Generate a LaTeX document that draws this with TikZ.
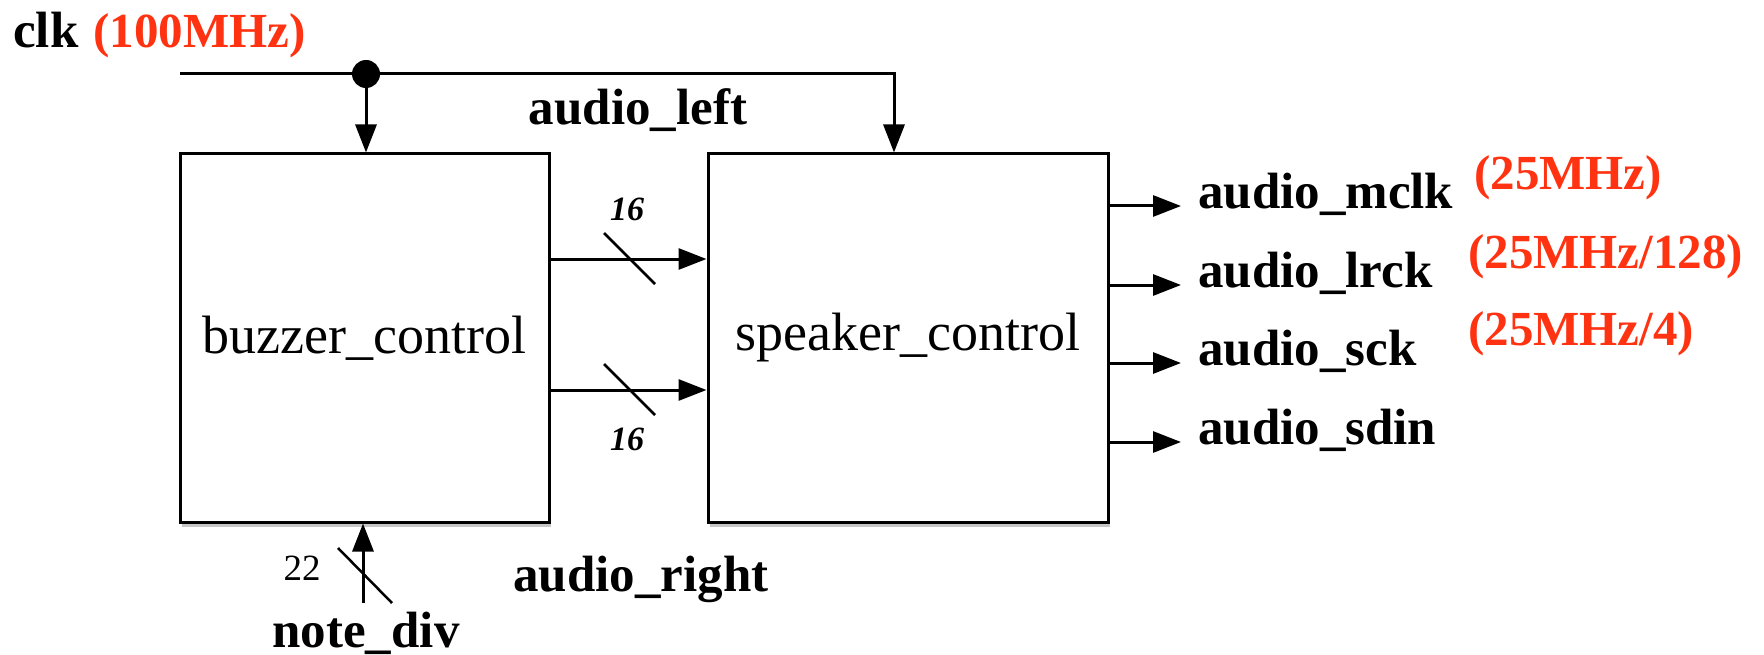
\documentclass[tikz,border=0pt]{standalone}
\usepackage{fontspec}
\setmainfont{Liberation Serif}
\usetikzlibrary{arrows.meta,shadows}
\definecolor{freqred}{RGB}{255,51,17}
\begin{document}
\begin{tikzpicture}[x=1pt,y=-1pt,
  wire/.style={line width=3pt},
  arr/.style={line width=3pt,-{Triangle[length=28pt,width=21pt]}},
  block/.style={draw,line width=3pt,fill=white,drop shadow={shadow xshift=2pt,shadow yshift=-5pt,opacity=0.45},font=\fontsize{54}{60}\selectfont},
  sig/.style={font=\fontsize{51}{60}\selectfont\bfseries,inner sep=0pt},
  freq/.style={font=\fontsize{49}{60}\selectfont\bfseries,text=freqred,inner sep=0pt},
  width/.style={font=\fontsize{34}{40}\selectfont\bfseries\itshape,inner sep=0pt},
  slash/.style={line width=2.5pt}
]
\useasboundingbox (0,0) rectangle (1764,655);
% blocks
\node[block,minimum width=369pt,minimum height=368pt] (buzz) at (364.5,338) {buzzer\_control};
\node[block,minimum width=400pt,minimum height=368pt] (spk) at (908,338) {speaker\_control};
% clock
\node[sig,anchor=base west] (clk) at (13,48) {clk};
\node[freq,anchor=base west] (clkf) at (93,48) {(100MHz)};
\coordinate (clkstart) at (180,74);
\coordinate (clkdot) at (366,74);
\coordinate (clkturn) at (894,74);
\draw[arr] (clkstart) -- (clkturn) -- (clkturn |- spk.north);
\draw[arr] (clkdot) -- (clkdot |- buzz.north);
\fill (clkdot) circle (14pt);
\node[sig] (aleft) at (638,110) {audio\_left};
% buses between blocks
\coordinate (b1) at (buzz.east |- 0,259);
\coordinate (b2) at (buzz.east |- 0,390);
\draw[arr] (b1) -- (b1 -| spk.west);
\draw[arr] (b2) -- (b2 -| spk.west);
\coordinate (s1a) at (604,233); \coordinate (s1b) at (655,284);
\coordinate (s2a) at (604,364); \coordinate (s2b) at (655,415);
\draw[slash] (s1a) -- (s1b);
\draw[slash] (s2a) -- (s2b);
\node[width] (w1) at (627,209) {16};
\node[width] (w2) at (627,439) {16};
% outputs
\foreach \yy/\nm/\lab in {206/o1/audio\_mclk,285/o2/audio\_lrck,363/o3/audio\_sck,442/o4/audio\_sdin}{
  \coordinate (\nm s) at (spk.east |- 0,\yy);
  \coordinate (\nm e) at (1181,\yy);
  \draw[arr] (\nm s) -- (\nm e);
  \node[sig,anchor=base west] (\nm l) at (1198,\yy+2) {\lab};
}
\node[freq,anchor=base west] (f1) at (1474,190) {(25MHz)};
\node[freq,anchor=base west] (f2) at (1468,269) {(25MHz/128)};
\node[freq,anchor=base west] (f3) at (1468,345) {(25MHz/4)};
% note_div
\coordinate (nstart) at (363,603);
\draw[arr] (nstart) -- (nstart |- buzz.south);
\coordinate (s3a) at (338,548); \coordinate (s3b) at (392,603);
\draw[slash] (s3a) -- (s3b);
\node[font=\fontsize{37}{40}\selectfont,inner sep=0pt] (w3) at (302,568) {22};
\node[sig] (ndiv) at (366,633) {note\_div};
\node[sig] (aright) at (641,579) {audio\_right};
\end{tikzpicture}
\end{document}
